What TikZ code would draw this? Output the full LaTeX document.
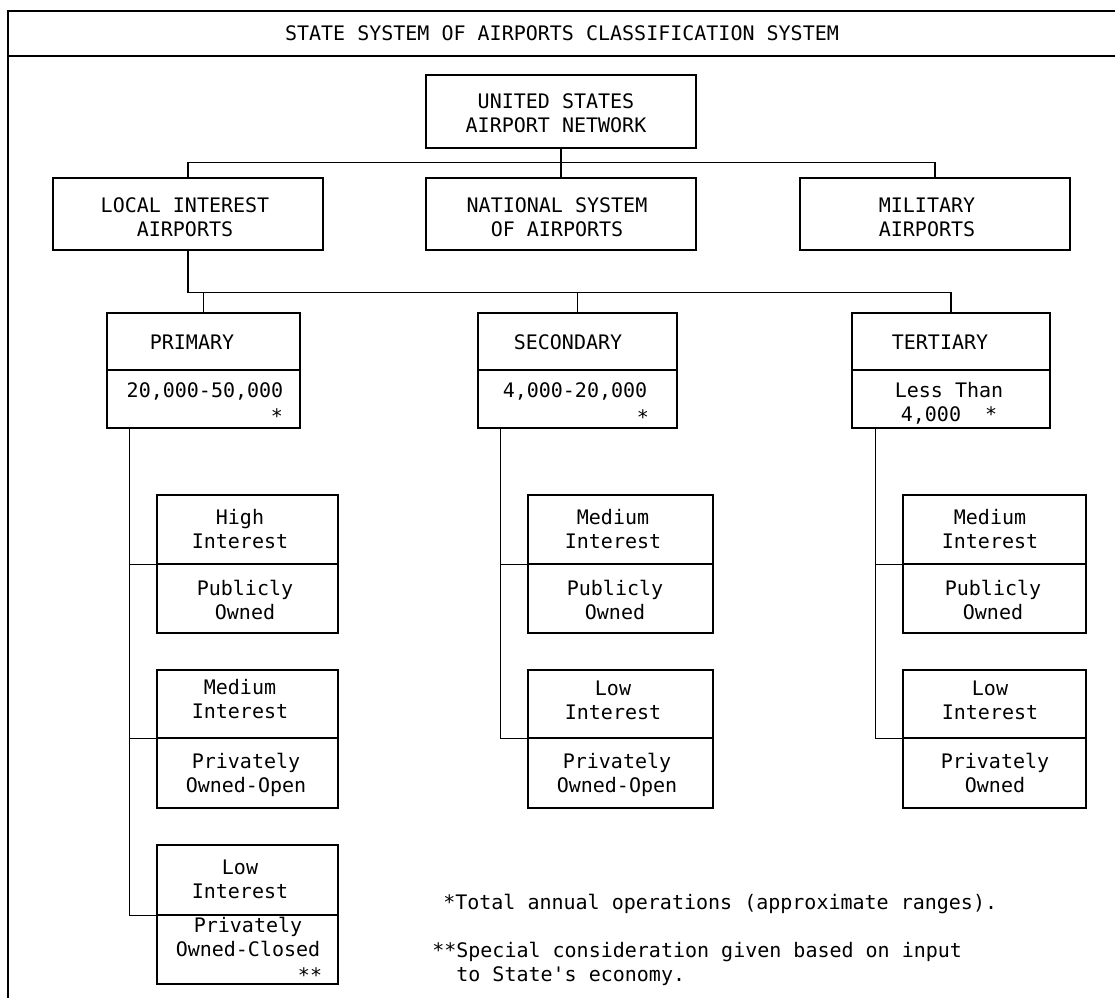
\documentclass[tikz,border=0pt]{standalone}
\usepackage{fontspec}
\setmonofont{DejaVu Sans Mono}
\usetikzlibrary{fit}
\begin{document}
\begin{tikzpicture}[x=0.75pt,y=-0.75pt,
  box/.style={draw, inner sep=0pt, line width=0.9pt},
  conn/.style={line width=0.9pt},
  frame/.style={line width=0.9pt},
  txt/.style={font=\ttfamily\fontsize{15}{18}\selectfont, align=center, inner sep=0pt,
              execute at begin node=\strut, execute at end node=\strut},
  note/.style={txt, align=left, anchor=north west}]
\useasboundingbox (0,0) rectangle (1115,998);

% outer frame and title band
\draw[frame] (8,998) -- (8,11) -- (1115,11);
\draw[frame] (8,56) -- (1115,56);
\node[txt] (title) at (562,35.5) {STATE SYSTEM OF AIRPORTS CLASSIFICATION SYSTEM};

% top levels
\node[box, fit={(426,75)(696,148)}] (usa) {};
\node[box, fit={(53,178)(323,250)}] (local) {};
\node[box, fit={(426,178)(696,250)}] (natl) {};
\node[box, fit={(800,178)(1070,250)}] (mil) {};
\node[txt] (usaL) at (556,116.5) {UNITED STATES\\AIRPORT NETWORK};
\node[txt] (localL) at (185,220.5) {LOCAL INTEREST\\AIRPORTS};
\node[txt] (natlL) at (557,220.5) {NATIONAL SYSTEM\\OF AIRPORTS};
\node[txt] (milL) at (927,220.5) {MILITARY\\AIRPORTS};

% local interest classes
\node[box, fit={(107,313)(300,370)}] (priT) {};
\node[box, fit={(107,370)(300,428)}] (priB) {};
\node[box, fit={(478,313)(677,370)}] (secT) {};
\node[box, fit={(478,370)(677,428)}] (secB) {};
\node[box, fit={(852,313)(1050,370)}] (terT) {};
\node[box, fit={(852,370)(1050,428)}] (terB) {};
\node[txt] (priL) at (192,344.5) {PRIMARY};
\node[txt] (secL) at (568,344.5) {SECONDARY};
\node[txt] (terL) at (940,344.5) {TERTIARY};
\node[txt] (priN) at (205,392.5) {20,000-50,000};
\node[txt] (priS) at (277,418.5) {*};
\node[txt] (secN) at (575,392.5) {4,000-20,000};
\node[txt] (secS) at (643,419.5) {*};
\node[txt] (terN) at (949,405.5) {Less Than\\4,000\ \ *};

% primary sub-categories
\node[box, fit={(157,495)(338,564)}] (p1T) {};
\node[box, fit={(157,564)(338,633)}] (p1B) {};
\node[box, fit={(157,670)(338,738)}] (p2T) {};
\node[box, fit={(157,738)(338,808)}] (p2B) {};
\node[box, fit={(157,845)(338,915)}] (p3T) {};
\node[box, fit={(157,915)(338,984)}] (p3B) {};
\node[txt] (p1TL) at (240,532.5) {High\\Interest};
\node[txt] (p1BL) at (245,603) {Publicly\\Owned};
\node[txt] (p2TL) at (240,702.5) {Medium\\Interest};
\node[txt] (p2BL) at (246,776) {Privately\\Owned-Open};
\node[txt] (p3TL) at (240,883) {Low\\Interest};
\node[txt] (p3BL) at (248,940) {Privately\\Owned-Closed};
\node[txt] (p3S) at (310,977.5) {**};

% secondary sub-categories
\node[box, fit={(528,495)(713,564)}] (s1T) {};
\node[box, fit={(528,564)(713,633)}] (s1B) {};
\node[box, fit={(528,670)(713,738)}] (s2T) {};
\node[box, fit={(528,738)(713,808)}] (s2B) {};
\node[txt] (s1TL) at (613,532.5) {Medium\\Interest};
\node[txt] (s1BL) at (615,603) {Publicly\\Owned};
\node[txt] (s2TL) at (613,703.5) {Low\\Interest};
\node[txt] (s2BL) at (617,776.5) {Privately\\Owned-Open};

% tertiary sub-categories
\node[box, fit={(903,495)(1086,564)}] (t1T) {};
\node[box, fit={(903,564)(1086,633)}] (t1B) {};
\node[box, fit={(903,670)(1086,738)}] (t2T) {};
\node[box, fit={(903,738)(1086,808)}] (t2B) {};
\node[txt] (t1TL) at (990,532.5) {Medium\\Interest};
\node[txt] (t1BL) at (993,603) {Publicly\\Owned};
\node[txt] (t2TL) at (990,703.5) {Low\\Interest};
\node[txt] (t2BL) at (995,776) {Privately\\Owned};

% footnotes
\node[note] (note1) at (443,892.5) {*Total annual operations (approximate ranges).};
\node[note] (note2) at (432,941.5) {**Special consideration given based on input\\\phantom{**}to State's economy.};

% connectors
\draw[conn] (usa.south) -- (natl.north);
\draw[conn] (local.north) -- ++(0,-15) -| (mil.north);
\path (local.south) ++(0,42) coordinate (bus);
\draw[conn] (local.south) -- (bus) -| (terT.north);
\draw[conn] (priT.north) |- (bus);
\draw[conn] (secT.north) -- (secT.north |- bus);

\path ([xshift=17.25pt]priB.south west) coordinate (ptr);
\path ([xshift=17.25pt]secB.south west) coordinate (str);
\path ([xshift=18pt]terB.south west) coordinate (ttr);
\draw[conn] (ptr) |- (p1T.south west);
\draw[conn] (ptr) |- (p2T.south west);
\draw[conn] (ptr) |- (p3T.south west);
\draw[conn] (str) |- (s1T.south west);
\draw[conn] (str) |- (s2T.south west);
\draw[conn] (ttr) |- (t1T.south west);
\draw[conn] (ttr) |- (t2T.south west);
\end{tikzpicture}
\end{document}
